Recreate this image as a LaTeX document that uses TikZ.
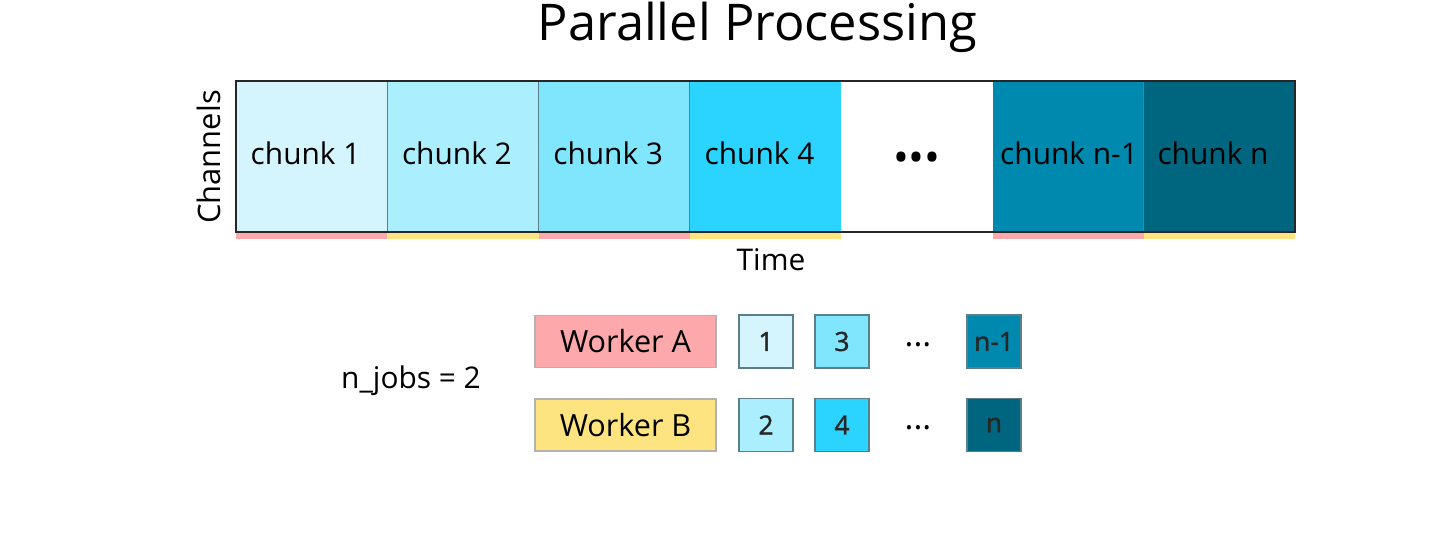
\documentclass[tikz,border=0pt]{standalone}
\usepackage{fontspec}
\setmainfont{Open Sans}
\newfontfamily\numfuente{Open Sans}[FakeBold=1.5]
\usepackage{tkz-euclide}
\usetikzlibrary{positioning}

\definecolor{trozoA}{HTML}{D5F5FE}
\definecolor{trozoB}{HTML}{ABEEFE}
\definecolor{trozoC}{HTML}{80E6FE}
\definecolor{trozoD}{HTML}{2AD4FE}
\definecolor{trozoF}{HTML}{0089AE}
\definecolor{trozoG}{HTML}{006680}
\definecolor{rojoA}{HTML}{FDA9AB}
\definecolor{amarilloB}{HTML}{FEE481}
\definecolor{bordeT}{HTML}{5A7F88}

\tikzset{
  trozo/.style={draw=bordeT, line width=0.3pt, minimum width=1.513cm,
    minimum height=1.51cm, inner sep=0pt, outer sep=0pt},
  etiqueta/.style={font=\fontsize{8.5}{10}\selectfont, inner sep=0pt},
  obrero/.style={draw=black!30, line width=0.3pt, minimum width=1.81cm,
    minimum height=0.52cm, inner sep=0pt, outer sep=0pt,
    font=\fontsize{8.7}{10}\selectfont},
  cuadro/.style={draw=bordeT, line width=0.3pt, minimum width=0.54cm,
    minimum height=0.53cm, inner sep=0pt, outer sep=0pt, text=black!85,
    font=\numfuente\fontsize{7.5}{9}\selectfont}
}

\begin{document}
\begin{tikzpicture}
        \useasboundingbox (0,0) rectangle (14.34,5.46);

        % Paso 1: Escribe el título
        \node[font=\fontsize{14.4}{17}\selectfont] (titulo) at (7.575,5.19) {Parallel Processing};

        % Paso 2: Define los trozos de la señal
        \foreach \i/\col/\tira/\sep/\txt in {0/trozoA/rojoA/0.14/chunk 1, 1/trozoB/amarilloB/0.14/chunk 2,
            2/trozoC/rojoA/0.14/chunk 3, 3/trozoD/amarilloB/0.14/chunk 4,
            5/trozoF/rojoA/0.07/chunk n-1, 6/trozoG/amarilloB/0.13/chunk n}{
          \node[trozo, fill=\col, anchor=south west] (chunk\i) at (2.36+1.513*\i,3.14) {};
          \node[etiqueta, right=\sep of chunk\i.west, yshift=0.03cm] (texto\i) {\txt};
          \fill[\tira] (chunk\i.south west) rectangle ++(1.513,-0.07);
        }

        % Paso 3: Celda de los puntos suspensivos
        \node[trozo, draw=none, fill=white, anchor=south west] (chunk4) at (2.36+1.513*4,3.14) {};
        \node[font=\fontsize{12}{13}\selectfont, inner sep=0pt, yshift=-0.06cm] (puntos) at (chunk4) {•••};
        \draw[black!85, line width=0.4pt] (chunk0.north west) rectangle (chunk6.south east);

        % Paso 4: Etiqueta los ejes
        \node[etiqueta, font=\fontsize{8.8}{10}\selectfont, rotate=90] (canales) at (2.09,3.89) {Channels};
        \node[etiqueta] (tiempo) at (7.71,2.86) {Time};

        % Paso 5: Dibuja los trabajadores
        \node[obrero, fill=rojoA] (obreroA) at (6.255,2.045) {Worker A};
        \node[obrero, fill=amarilloB] (obreroB) at (6.255,1.21) {Worker B};
        \node[etiqueta] (njobs) at (4.11,1.65) {n\_jobs = 2};

        % Paso 6: Asigna los trozos a cada trabajador
        \node[cuadro, fill=trozoA, right=0.23 of obreroA] (a1) {1};
        \node[cuadro, fill=trozoC, right=0.22 of a1] (a3) {3};
        \node[cuadro, fill=trozoF, right=0.98 of a3] (an) {n-1};
        \node[cuadro, fill=trozoB, right=0.23 of obreroB] (b2) {2};
        \node[cuadro, fill=trozoD, right=0.22 of b2] (b4) {4};
        \node[cuadro, fill=trozoG, right=0.98 of b4] (bn) {n};
        \node[etiqueta, font=\fontsize{9.5}{10}\selectfont, yshift=-0.08cm] (puntosA) at ($(a3)!0.5!(an)$) {···};
        \node[etiqueta, font=\fontsize{9.5}{10}\selectfont, yshift=-0.08cm] (puntosB) at ($(b4)!0.5!(bn)$) {···};
\end{tikzpicture}
\end{document}
